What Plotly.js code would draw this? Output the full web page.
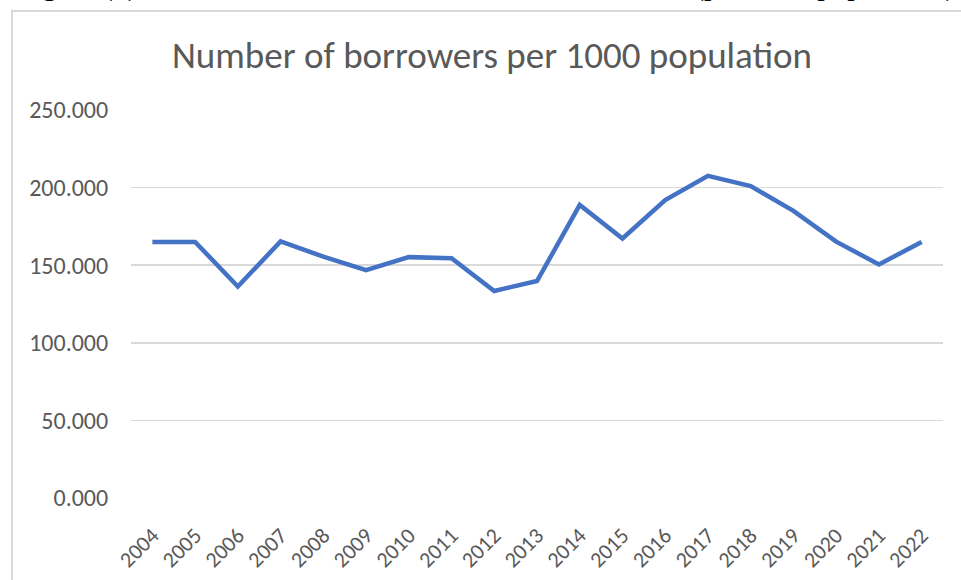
<!DOCTYPE html>
<html>
<head>
<meta charset="utf-8">
<script src="https://cdn.plot.ly/plotly-3.0.1.min.js"></script>
<style>
  html, body { margin: 0; padding: 0; background: #ffffff; overflow: hidden; }
  #chart { width: 961px; height: 580px; position: relative; }
  #frame { position: absolute; left: 11px; top: 10px; width: 960px; height: 580px;
           border-top: 2px solid #d9d9d9; border-left: 2px solid #d9d9d9; pointer-events: none; }
</style>
</head>
<body>
<div id="chart"></div>
<div id="frame"></div>
<script>
const years = ["2004","2005","2006","2007","2008","2009","2010","2011","2012","2013",
               "2014","2015","2016","2017","2018","2019","2020","2021","2022"];
const borrowers = [165.0, 165.0, 136.3, 165.3, 155.5, 146.8, 155.2, 154.5, 133.4, 139.8,
                   188.8, 167.2, 192.0, 207.6, 201.0, 185.0, 165.2, 150.5, 164.9];
const yTicks = [0, 50, 100, 150, 200, 250];
const yTickLabels = ["0.000", "50.000", "100.000", "150.000", "200.000", "250.000"];

const fontFam = "Carlito, Lato, 'Open Sans', sans-serif";
const serif = "'Liberation Serif', 'Times New Roman', serif";

const trace = {
  type: "scatter",
  mode: "lines",
  x: years,
  y: borrowers,
  line: { color: "#4472c4", width: 4.5, shape: "linear" },
  hoverinfo: "x+y"
};

const layout = {
  width: 961,
  height: 580,
  margin: { l: 131, r: 18, t: 110, b: 82 },
  paper_bgcolor: "#ffffff",
  plot_bgcolor: "#ffffff",
  showlegend: false,
  title: {
    text: "Number of borrowers per 1000 population",
    font: { family: fontFam, size: 37, color: "#595959" },
    x: 0.512, xanchor: "center",
    y: 0.905, yanchor: "middle"
  },
  xaxis: {
    type: "category",
    range: [-0.5, 18.5],
    showgrid: false,
    zeroline: false,
    showline: false,
    ticks: "outside",
    ticklen: 15,
    tickcolor: "rgba(0,0,0,0)",
    tickangle: -45,
    tickfont: { family: fontFam, size: 22, color: "#595959" },
    fixedrange: true
  },
  yaxis: {
    range: [0, 250],
    tickvals: yTicks,
    ticktext: yTickLabels,
    showgrid: true,
    gridcolor: "#d9d9d9",
    gridwidth: 1.5,
    zeroline: false,
    showline: false,
    ticks: "outside",
    ticklen: 17,
    tickcolor: "rgba(0,0,0,0)",
    tickfont: { family: fontFam, size: 24, color: "#595959" },
    fixedrange: true
  },
  annotations: [
    { text: "Figure (x)", xref: "paper", yref: "paper", x: -0.143, y: 1.272, xanchor: "left", yanchor: "bottom",
      showarrow: false, font: { family: serif, size: 30, color: "#000000" } },
    { text: "(per 1000 population)", xref: "paper", yref: "paper", x: 1.018, y: 1.272, xanchor: "right", yanchor: "bottom",
      showarrow: false, font: { family: serif, size: 30, color: "#000000" } }
  ]
};

Plotly.newPlot("chart", [trace], layout, { displayModeBar: false, staticPlot: true });
</script>
</body>
</html>
